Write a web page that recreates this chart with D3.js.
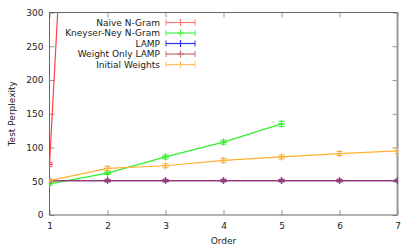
<!DOCTYPE html>
<html lang="en">
<head>
	<meta charset="UTF-8">
	<title>Test Perplexity vs Order</title>
	<script src="https://cdn.jsdelivr.net/npm/d3@7"></script>
	<style>
		body { margin: 0; background: white; }
		svg text { font-family: "DejaVu Sans", sans-serif; font-size: 9px; fill: #222; }
	</style>
</head>
<body>
	<div id="vis"></div>

	<script>
		var width = 415;
		var height = 249;

		// data
		var orders = [1, 2, 3, 4, 5, 6, 7];
		var yTicks = [0, 50, 100, 150, 200, 250, 300];

		var naiveValues = [75, 1670];
		var naiveErrors = [3, 40];
		var knValues = [46, 62, 86, 108, 135];
		var knErrors = [2, 2, 3, 3, 4];
		var lampValues = [51, 51, 51, 51, 51, 51, 51];
		var lampErrors = [1, 1, 1, 1, 1, 1, 1];
		var weightOnlyValues = [51, 51, 51, 51, 51, 51, 51];
		var weightOnlyErrors = [2, 2, 2, 2, 2, 2, 2];
		var initialValues = [51, 69, 73, 81, 86, 91, 95];
		var initialErrors = [2, 3, 3, 3, 3, 3, 4];

		var seriesNames = ["Naive N-Gram", "Kneyser-Ney N-Gram", "LAMP", "Weight Only LAMP", "Initial Weights"];
		var seriesColors = ["#ff4040", "#30f030", "#2020ff", "#a03c64", "#ffb030"];
		var legendColors = ["#f47a7a", "#4cf04c", "#3030f0", "#c07070", "#ffc060"];

		function makeSeries(values, errors) {
			return values.map(function(v, i) {
				return { x: orders[i], y: v, e: errors[i] };
			});
		}

		var series = [
			makeSeries(naiveValues, naiveErrors),
			makeSeries(knValues, knErrors),
			makeSeries(lampValues, lampErrors),
			makeSeries(weightOnlyValues, weightOnlyErrors),
			makeSeries(initialValues, initialErrors)
		];

		var svg = d3.select("#vis").append("svg")
				.attr("width", width)
				.attr("height", height);

		// plot frame (note: "top" is taken by window.top)
		var frameL = 49.5, frameR = 397.5, frameT = 12.5, frameB = 215;

		var x = d3.scaleLinear().domain([1, 7]).range([frameL, frameR]);
		var y = d3.scaleLinear().domain([0, 300]).range([frameB, frameT]);

		// clip so the steep naive line stops at the frame
		svg.append("clipPath").attr("id", "clip")
			.append("rect")
			.attr("x", frameL).attr("y", frameT)
			.attr("width", frameR - frameL).attr("height", frameB - frameT);

		// axes with inward ticks, mirrored on top and right
		var tickLen = 5;
		var axisColor = "#666";

		var xAxis = svg.append("g")
				.attr("transform", "translate(0," + frameB + ")")
				.call(d3.axisBottom(x).tickValues(orders).tickSize(-tickLen).tickPadding(8).tickFormat(d3.format("d")));
		var yAxis = svg.append("g")
				.attr("transform", "translate(" + frameL + ",0)")
				.call(d3.axisLeft(y).tickValues(yTicks).tickSize(-tickLen).tickPadding(6));
		var xTop = svg.append("g")
				.attr("transform", "translate(0," + frameT + ")")
				.call(d3.axisTop(x).tickValues(orders).tickSize(-tickLen).tickFormat(""));
		var yRight = svg.append("g")
				.attr("transform", "translate(" + frameR + ",0)")
				.call(d3.axisRight(y).tickValues(yTicks).tickSize(-tickLen).tickFormat(""));

		[xAxis, yAxis, xTop, yRight].forEach(function(g) {
			g.select(".domain").remove();
			g.selectAll(".tick line").attr("stroke", "#999");
			g.selectAll("text").attr("fill", "#222").style("font-size", "9px");
		});

		// border
		svg.append("rect")
			.attr("x", frameL).attr("y", frameT)
			.attr("width", frameR - frameL).attr("height", frameB - frameT)
			.attr("fill", "none")
			.attr("stroke", axisColor)
			.attr("stroke-width", 1);
		svg.append("line")
			.attr("x1", frameR).attr("x2", frameR)
			.attr("y1", frameT).attr("y2", frameB)
			.attr("stroke", "#999")
			.attr("stroke-width", 2);

		// axis titles
		svg.append("text")
			.attr("x", (frameL + frameR) / 2)
			.attr("y", 244)
			.attr("text-anchor", "middle")
			.text("Order");
		svg.append("text")
			.attr("transform", "translate(15," + ((frameT + frameB) / 2) + ") rotate(-90)")
			.attr("text-anchor", "middle")
			.text("Test Perplexity");

		// data
		var plot = svg.append("g").attr("clip-path", "url(#clip)");

		var line = d3.line()
				.x(function(d) { return x(d.x); })
				.y(function(d) { return y(d.y); });

		var capW = 3, plusW = 3.5;

		series.forEach(function(data, i) {
			var color = seriesColors[i];
			var g = plot.append("g");

			g.append("path")
				.datum(data)
				.attr("d", line)
				.attr("fill", "none")
				.attr("stroke", color)
				.attr("stroke-width", 1.2);

			var pts = g.selectAll(".pt").data(data).enter().append("g");

			// error bar
			pts.append("line")
				.attr("x1", function(d) { return x(d.x); })
				.attr("x2", function(d) { return x(d.x); })
				.attr("y1", function(d) { return y(d.y - d.e); })
				.attr("y2", function(d) { return y(d.y + d.e); })
				.attr("stroke", color);
			pts.append("line")
				.attr("x1", function(d) { return x(d.x) - capW; })
				.attr("x2", function(d) { return x(d.x) + capW; })
				.attr("y1", function(d) { return y(d.y - d.e); })
				.attr("y2", function(d) { return y(d.y - d.e); })
				.attr("stroke", color);
			pts.append("line")
				.attr("x1", function(d) { return x(d.x) - capW; })
				.attr("x2", function(d) { return x(d.x) + capW; })
				.attr("y1", function(d) { return y(d.y + d.e); })
				.attr("y2", function(d) { return y(d.y + d.e); })
				.attr("stroke", color);

			// "+" point
			pts.append("path")
				.attr("d", function(d) {
					var cx = x(d.x), cy = y(d.y);
					return "M" + (cx - plusW) + "," + cy + "H" + (cx + plusW) +
						"M" + cx + "," + (cy - plusW) + "V" + (cy + plusW);
				})
				.attr("stroke", color)
				.attr("stroke-width", 1.2);
		});

		// legend
		var legend = svg.append("g");
		var lx0 = 166, lx1 = 195, ly0 = 22.5, lstep = 10.5;

		seriesNames.forEach(function(name, i) {
			var ly = ly0 + i * lstep;
			var color = legendColors[i];
			var row = legend.append("g");

			row.append("text")
				.attr("x", 160)
				.attr("y", ly)
				.attr("dy", "0.35em")
				.attr("text-anchor", "end")
				.text(name);

			row.append("line")
				.attr("x1", lx0).attr("x2", lx1)
				.attr("y1", ly).attr("y2", ly)
				.attr("stroke", color)
				.attr("stroke-width", 1.2);
			[lx0, lx1].forEach(function(cx) {
				row.append("line")
					.attr("x1", cx).attr("x2", cx)
					.attr("y1", ly - 3).attr("y2", ly + 3)
					.attr("stroke", color);
			});
			var mx = (lx0 + lx1) / 2;
			row.append("path")
				.attr("d", "M" + (mx - plusW) + "," + ly + "H" + (mx + plusW) +
					"M" + mx + "," + (ly - plusW) + "V" + (ly + plusW))
				.attr("stroke", color)
				.attr("stroke-width", 1.2);
		});
	</script>
</body>
</html>
